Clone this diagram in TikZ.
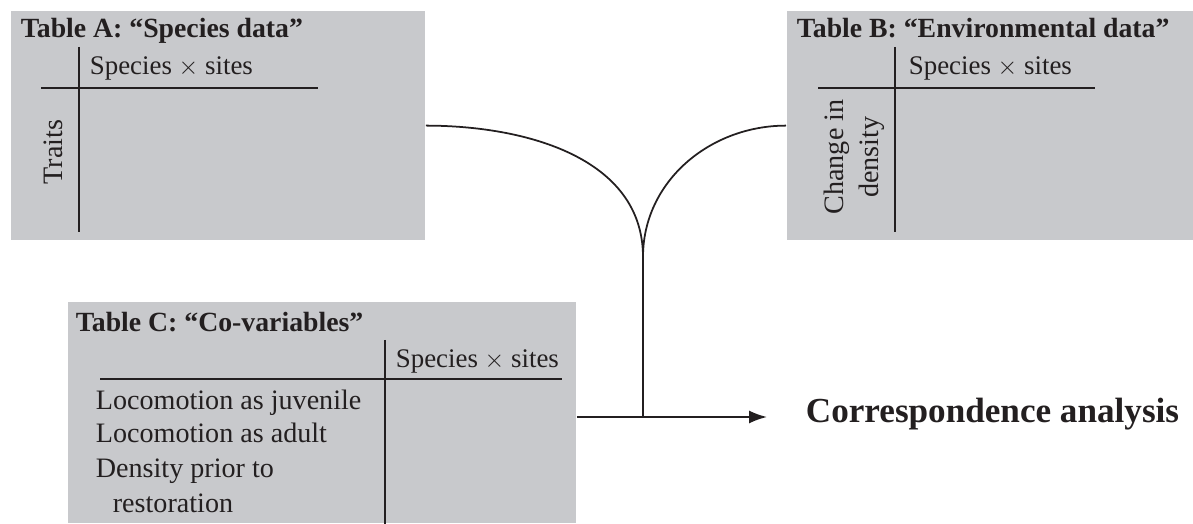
\documentclass[tikz,border=0pt]{standalone}
\usepackage{fontspec}
\setmainfont{Liberation Serif}
\usetikzlibrary{arrows.meta}
\definecolor{boxgray}{RGB}{200,201,204}
\definecolor{ink}{RGB}{35,31,32}
\tikzset{
  tablebox/.style={fill=boxgray, inner sep=0pt, anchor=south west},
  tabtitle/.style={font=\fontsize{15.8}{18}\selectfont\bfseries, anchor=base west, inner sep=0pt},
  cell/.style={font=\fontsize{16}{20}\selectfont, anchor=base west, inner sep=0pt},
  colhead/.style={cell, font=\fontsize{15.3}{20}\selectfont},
}
\begin{document}
\begin{tikzpicture}[ink, line width=1pt]
    \useasboundingbox (0,0) rectangle (23.86,10.48);
    % the three tables
    \node [tablebox, minimum width=8.28cm, minimum height=4.58cm] (tabA) at (0.2,5.66) {};
    \node [tablebox, minimum width=8.14cm, minimum height=4.58cm] (tabB) at (15.72,5.66) {};
    \node [tablebox, minimum width=10.16cm, minimum height=4.42cm] (tabC) at (1.34,0) {};
    % table A
    \node [tabtitle] (titleA) at (0.4,9.72) {Table A: “Species data”};
    \draw (1.58,9.54)--(1.58,5.84);
    \draw (0.82,8.72)--(6.36,8.72);
    \node [colhead] (headA) at (1.78,8.98) {Species $\times$ sites};
    \node [cell, rotate=90, anchor=center] (traits) at (1.06,7.44) {Traits};
    % table B
    \node [tabtitle] (titleB) at (15.92,9.72) {Table B: “Environmental data”};
    \draw (17.9,9.54)--(17.9,5.84);
    \draw (16.36,8.72)--(21.9,8.72);
    \node [colhead] (headB) at (18.16,8.98) {Species $\times$ sites};
    \node [cell, rotate=90, anchor=center, align=center] (change) at (17.09,7.34) {Change in\\density};
    % table C
    \node [tabtitle] (titleC) at (1.5,3.84) {Table C: “Co-variables”};
    \draw (7.7,3.68)--(7.7,0);
    \draw (2.0,2.9)--(11.24,2.9);
    \node [colhead] (headC) at (7.9,3.12) {Species $\times$ sites};
    \node [cell] (rowjuv) at (1.9,2.28) {Locomotion as juvenile};
    \node [cell] (rowadult) at (1.9,1.62) {Locomotion as adult};
    \node [cell] (rowdens) at (1.9,0.92) {Density prior to};
    \node [cell] (rowrest) at (2.24,0.22) {restoration};
    % joining the tables
    \coordinate (fork) at (12.86,5.34);
    \coordinate (join) at (12.86,2.14);
    \coordinate (tip) at (15.34,2.14);
    \draw (tabA.east) to [out=0,in=90] (fork);
    \draw (tabB.west) to [out=180,in=90] (fork);
    \draw (fork)--(join);
    \draw (tabC.east |- join)--(join);
    \draw [-{Latex[length=0.36cm,width=0.26cm]}] (join)--(tip);
    \node [font=\fontsize{20}{24}\selectfont\bfseries, anchor=base west, inner sep=0pt] (result) at (16.1,2.02) {Correspondence analysis};
\end{tikzpicture}
\end{document}
